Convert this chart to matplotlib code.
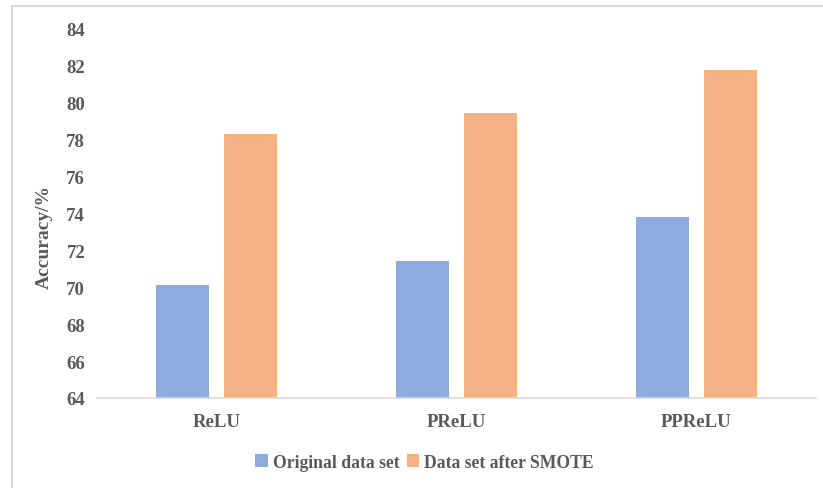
import matplotlib.pyplot as plt
from matplotlib.patches import Rectangle
import numpy as np

# Accuracy of each activation function before and after SMOTE
activations = ['ReLU', 'PReLU', 'PPReLU']
original = [70.1, 71.45, 73.8]
after_smote = [78.3, 79.45, 81.8]
series_names = ['Original data set', 'Data set after SMOTE']
y_ticks = [64, 66, 68, 70, 72, 74, 76, 78, 80, 82, 84]

text_color = '#595959'
plt.rcParams['font.family'] = ['Liberation Serif', 'DejaVu Serif']
plt.rcParams['font.weight'] = 'bold'
plt.rcParams['axes.labelweight'] = 'bold'

fig = plt.figure(figsize=(8.23, 4.89), dpi=100)
ax = fig.add_axes([97 / 823, 1 - 399 / 489, (816 - 97) / 823, (399 - 30) / 489])

# outer chart border (only left and top edges are in view)
fig.patches.append(Rectangle((12 / 823, -0.1), 1.2, 1 - 7 / 489 + 0.1,
                             transform=fig.transFigure, fill=False,
                             edgecolor='#d9d9d9', linewidth=1.5))

x = np.arange(len(activations))
w = 0.221
off = 0.142
ax.bar(x - off, original, w, color='#8faadc', label=series_names[0])
ax.bar(x + off, after_smote, w, color='#f4b183', label=series_names[1])

ax.set_xlim(-0.5, len(activations) - 0.5)
ax.set_ylim(64, 84)
ax.set_yticks(y_ticks)
ax.set_xticks(x)
ax.set_xticklabels(activations)
ax.tick_params(axis='both', length=0, labelsize=13.5, colors=text_color)
ax.tick_params(axis='y', pad=8.5)
ax.tick_params(axis='x', pad=11)

for side in ['left', 'right', 'top']:
    ax.spines[side].set_visible(False)
ax.spines['bottom'].set_color('#d9d9d9')
ax.spines['bottom'].set_linewidth(1.2)

ax.set_ylabel('Accuracy/%', fontsize=14, color=text_color)
ax.yaxis.set_label_coords(-0.061, 0.44)

fig.legend(loc='center', bbox_to_anchor=(0.516, 1 - 463 / 489), ncol=2,
           frameon=False, fontsize=12.7, handlelength=0.7, handleheight=0.7,
           handletextpad=0.3, columnspacing=0.4, labelcolor=text_color)

fig.savefig('out.png', dpi=100)
